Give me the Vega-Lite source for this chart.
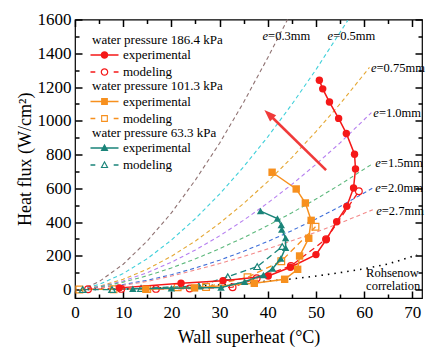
{
  "$schema": "https://vega.github.io/schema/vega-lite/v6.json",
  "width": 347,
  "height": 278.5,
  "autosize": {"type": "none"},
  "padding": {"left": 75, "top": 19.5, "right": 10, "bottom": 56},
  "config": {
    "font": "Liberation Serif",
    "view": {"stroke": "black", "strokeWidth": 1.2},
    "axis": {"grid": false, "domain": false, "labelFlush": false, "labelOverlap": false, "tickColor": "black", "tickWidth": 1.5, "labelColor": "black", "titleColor": "black", "labelFontSize": 17, "titleFontSize": 18, "titleFontWeight": "normal", "labelFont": "Liberation Serif", "titleFont": "Liberation Serif"},
    "legend": {"labelFont": "Liberation Serif", "titleFont": "Liberation Serif", "labelFontSize": 13, "titleFontSize": 13, "titleFontWeight": "normal", "labelColor": "black", "titleColor": "black"}
  },
  "datasets": {
    "curves": [
      {"curve": "0.3", "x": 2.5, "y": 15}, {"curve": "0.3", "x": 5, "y": 47}, {"curve": "0.3", "x": 10, "y": 150}, {"curve": "0.3", "x": 15, "y": 288}, {"curve": "0.3", "x": 20, "y": 454}, {"curve": "0.3", "x": 25, "y": 650}, {"curve": "0.3", "x": 30, "y": 867}, {"curve": "0.3", "x": 35, "y": 1110}, {"curve": "0.3", "x": 40, "y": 1374}, {"curve": "0.3", "x": 44.1, "y": 1600},
      {"curve": "0.5", "x": 2.5, "y": 12}, {"curve": "0.5", "x": 5, "y": 30}, {"curve": "0.5", "x": 10, "y": 95}, {"curve": "0.5", "x": 15, "y": 183}, {"curve": "0.5", "x": 20, "y": 293}, {"curve": "0.5", "x": 25, "y": 421}, {"curve": "0.5", "x": 30, "y": 566}, {"curve": "0.5", "x": 35, "y": 728}, {"curve": "0.5", "x": 40, "y": 905}, {"curve": "0.5", "x": 45, "y": 1097}, {"curve": "0.5", "x": 50, "y": 1303}, {"curve": "0.5", "x": 56.6, "y": 1595},
      {"curve": "0.75", "x": 2.5, "y": 8}, {"curve": "0.75", "x": 5, "y": 19}, {"curve": "0.75", "x": 10, "y": 61}, {"curve": "0.75", "x": 15, "y": 121}, {"curve": "0.75", "x": 20, "y": 197}, {"curve": "0.75", "x": 25, "y": 288}, {"curve": "0.75", "x": 30, "y": 393}, {"curve": "0.75", "x": 35, "y": 510}, {"curve": "0.75", "x": 40, "y": 640}, {"curve": "0.75", "x": 45, "y": 782}, {"curve": "0.75", "x": 50, "y": 936}, {"curve": "0.75", "x": 55, "y": 1100}, {"curve": "0.75", "x": 61.1, "y": 1316},
      {"curve": "1.0", "x": 2.5, "y": 8}, {"curve": "1.0", "x": 5, "y": 17}, {"curve": "1.0", "x": 10, "y": 51}, {"curve": "1.0", "x": 15, "y": 100}, {"curve": "1.0", "x": 20, "y": 162}, {"curve": "1.0", "x": 25, "y": 235}, {"curve": "1.0", "x": 30, "y": 318}, {"curve": "1.0", "x": 35, "y": 411}, {"curve": "1.0", "x": 40, "y": 513}, {"curve": "1.0", "x": 45, "y": 623}, {"curve": "1.0", "x": 50, "y": 742}, {"curve": "1.0", "x": 55, "y": 869}, {"curve": "1.0", "x": 61.5, "y": 1048},
      {"curve": "1.5", "x": 2.5, "y": 7}, {"curve": "1.5", "x": 5, "y": 15}, {"curve": "1.5", "x": 10, "y": 44}, {"curve": "1.5", "x": 15, "y": 82}, {"curve": "1.5", "x": 20, "y": 128}, {"curve": "1.5", "x": 25, "y": 182}, {"curve": "1.5", "x": 30, "y": 242}, {"curve": "1.5", "x": 35, "y": 308}, {"curve": "1.5", "x": 40, "y": 379}, {"curve": "1.5", "x": 45, "y": 455}, {"curve": "1.5", "x": 50, "y": 536}, {"curve": "1.5", "x": 55, "y": 622}, {"curve": "1.5", "x": 61.5, "y": 741},
      {"curve": "2.0", "x": 2.5, "y": 6}, {"curve": "2.0", "x": 5, "y": 11}, {"curve": "2.0", "x": 10, "y": 30}, {"curve": "2.0", "x": 15, "y": 55}, {"curve": "2.0", "x": 20, "y": 88}, {"curve": "2.0", "x": 25, "y": 128}, {"curve": "2.0", "x": 30, "y": 174}, {"curve": "2.0", "x": 35, "y": 227}, {"curve": "2.0", "x": 40, "y": 285}, {"curve": "2.0", "x": 45, "y": 349}, {"curve": "2.0", "x": 50, "y": 418}, {"curve": "2.0", "x": 55, "y": 492}, {"curve": "2.0", "x": 61.8, "y": 602},
      {"curve": "2.7", "x": 2.5, "y": 5}, {"curve": "2.7", "x": 5, "y": 10}, {"curve": "2.7", "x": 10, "y": 25}, {"curve": "2.7", "x": 15, "y": 48}, {"curve": "2.7", "x": 20, "y": 80}, {"curve": "2.7", "x": 25, "y": 116}, {"curve": "2.7", "x": 30, "y": 154}, {"curve": "2.7", "x": 35, "y": 196}, {"curve": "2.7", "x": 40, "y": 241}, {"curve": "2.7", "x": 45, "y": 289}, {"curve": "2.7", "x": 50, "y": 340}, {"curve": "2.7", "x": 55, "y": 394}, {"curve": "2.7", "x": 61.8, "y": 473}
    ],
    "rohs": [
      {"x": 0, "y": 0}, {"x": 10, "y": 3}, {"x": 20, "y": 12}, {"x": 30, "y": 27}, {"x": 40, "y": 50}, {"x": 45, "y": 63}, {"x": 50, "y": 80}, {"x": 55, "y": 100}, {"x": 60, "y": 123}, {"x": 65, "y": 152}, {"x": 71, "y": 205}
    ],
    "series": [
      {"grp": "186.4", "kind": "exp", "i": 1, "x": 9.2, "y": 10}, {"grp": "186.4", "kind": "exp", "i": 2, "x": 22, "y": 37}, {"grp": "186.4", "kind": "exp", "i": 3, "x": 30.7, "y": 52}, {"grp": "186.4", "kind": "exp", "i": 4, "x": 40.1, "y": 80}, {"grp": "186.4", "kind": "exp", "i": 5, "x": 44.7, "y": 132}, {"grp": "186.4", "kind": "exp", "i": 6, "x": 50, "y": 207}, {"grp": "186.4", "kind": "exp", "i": 7, "x": 52.1, "y": 295}, {"grp": "186.4", "kind": "exp", "i": 8, "x": 54.3, "y": 402}, {"grp": "186.4", "kind": "exp", "i": 9, "x": 56.4, "y": 493}, {"grp": "186.4", "kind": "exp", "i": 10, "x": 57.8, "y": 602}, {"grp": "186.4", "kind": "exp", "i": 11, "x": 58.2, "y": 715}, {"grp": "186.4", "kind": "exp", "i": 12, "x": 58, "y": 802}, {"grp": "186.4", "kind": "exp", "i": 13, "x": 56.3, "y": 925}, {"grp": "186.4", "kind": "exp", "i": 14, "x": 54.7, "y": 1014}, {"grp": "186.4", "kind": "exp", "i": 15, "x": 52.8, "y": 1111}, {"grp": "186.4", "kind": "exp", "i": 16, "x": 51.4, "y": 1189}, {"grp": "186.4", "kind": "exp", "i": 17, "x": 50.7, "y": 1240},
      {"grp": "186.4", "kind": "mod", "i": 1, "x": 2.7, "y": 2}, {"grp": "186.4", "kind": "mod", "i": 2, "x": 9.6, "y": 4}, {"grp": "186.4", "kind": "mod", "i": 3, "x": 16.8, "y": 4}, {"grp": "186.4", "kind": "mod", "i": 4, "x": 23.8, "y": 6}, {"grp": "186.4", "kind": "mod", "i": 5, "x": 32.7, "y": 14}, {"grp": "186.4", "kind": "mod", "i": 6, "x": 37.7, "y": 67}, {"grp": "186.4", "kind": "mod", "i": 7, "x": 44.8, "y": 140}, {"grp": "186.4", "kind": "mod", "i": 8, "x": 52.1, "y": 299}, {"grp": "186.4", "kind": "mod", "i": 9, "x": 58.9, "y": 582},
      {"grp": "101.3", "kind": "exp", "i": 1, "x": 14.7, "y": 2}, {"grp": "101.3", "kind": "exp", "i": 2, "x": 24.8, "y": 10}, {"grp": "101.3", "kind": "exp", "i": 3, "x": 37.2, "y": 37}, {"grp": "101.3", "kind": "exp", "i": 4, "x": 43.5, "y": 61}, {"grp": "101.3", "kind": "exp", "i": 5, "x": 46.2, "y": 120}, {"grp": "101.3", "kind": "exp", "i": 6, "x": 46.6, "y": 199}, {"grp": "101.3", "kind": "exp", "i": 7, "x": 48.5, "y": 304}, {"grp": "101.3", "kind": "exp", "i": 8, "x": 49.0, "y": 410}, {"grp": "101.3", "kind": "exp", "i": 9, "x": 47.8, "y": 513}, {"grp": "101.3", "kind": "exp", "i": 10, "x": 45.9, "y": 596}, {"grp": "101.3", "kind": "exp", "i": 11, "x": 40.9, "y": 695},
      {"grp": "101.3", "kind": "mod", "i": 1, "x": 0.9, "y": 0}, {"grp": "101.3", "kind": "mod", "i": 2, "x": 8, "y": 2}, {"grp": "101.3", "kind": "mod", "i": 3, "x": 15, "y": 3}, {"grp": "101.3", "kind": "mod", "i": 4, "x": 21.3, "y": 13}, {"grp": "101.3", "kind": "mod", "i": 5, "x": 27.2, "y": 15}, {"grp": "101.3", "kind": "mod", "i": 6, "x": 35.8, "y": 73}, {"grp": "101.3", "kind": "mod", "i": 7, "x": 42.8, "y": 168}, {"grp": "101.3", "kind": "mod", "i": 8, "x": 49.9, "y": 372},
      {"grp": "63.3", "kind": "exp", "i": 1, "x": 12, "y": 5}, {"grp": "63.3", "kind": "exp", "i": 2, "x": 20, "y": 8}, {"grp": "63.3", "kind": "exp", "i": 3, "x": 30.3, "y": 12}, {"grp": "63.3", "kind": "exp", "i": 4, "x": 35.2, "y": 46}, {"grp": "63.3", "kind": "exp", "i": 5, "x": 39.1, "y": 86}, {"grp": "63.3", "kind": "exp", "i": 6, "x": 41.0, "y": 124}, {"grp": "63.3", "kind": "exp", "i": 7, "x": 42.7, "y": 184}, {"grp": "63.3", "kind": "exp", "i": 8, "x": 43.7, "y": 248}, {"grp": "63.3", "kind": "exp", "i": 9, "x": 43.7, "y": 305}, {"grp": "63.3", "kind": "exp", "i": 10, "x": 42.9, "y": 356}, {"grp": "63.3", "kind": "exp", "i": 11, "x": 42.8, "y": 383}, {"grp": "63.3", "kind": "exp", "i": 12, "x": 42.0, "y": 421}, {"grp": "63.3", "kind": "exp", "i": 13, "x": 38.5, "y": 465},
      {"grp": "63.3", "kind": "mod", "i": 1, "x": 1.6, "y": 0}, {"grp": "63.3", "kind": "mod", "i": 2, "x": 7.7, "y": 0}, {"grp": "63.3", "kind": "mod", "i": 3, "x": 13.7, "y": 7}, {"grp": "63.3", "kind": "mod", "i": 4, "x": 25.7, "y": 21}, {"grp": "63.3", "kind": "mod", "i": 5, "x": 31.7, "y": 76}, {"grp": "63.3", "kind": "mod", "i": 6, "x": 37.8, "y": 136}, {"grp": "63.3", "kind": "mod", "i": 7, "x": 43, "y": 255}
    ],
    "elabels": [
      {"lab": "=0.3mm", "x": 38.9, "y": 1504}, {"lab": "=0.5mm", "x": 52.4, "y": 1504}, {"lab": "=0.75mm", "x": 61.4, "y": 1311}, {"lab": "=1.0mm", "x": 61.9, "y": 1044}, {"lab": "=1.5mm", "x": 62.3, "y": 748}, {"lab": "=2.0mm", "x": 62.3, "y": 600}, {"lab": "=2.7mm", "x": 62.5, "y": 467}
    ],
    "rlabels": [
      {"text": "Rohsenow", "x": 60.4, "y": 100}, {"text": "correlation", "x": 60.4, "y": 23}
    ],
    "arrow": [
      {"x": 52.1, "y": 708}, {"x": 40.1, "y": 1043}
    ],
    "arrowhead": [
      {"x": 39.3, "y": 1064}
    ]
  },
  "resolve": {"scale": {"color": "independent", "shape": "independent"}, "axis": {"x": "independent", "y": "independent"}},
  "layer": [
    {
      "data": {"name": "curves"},
      "mark": {"type": "line", "strokeDash": [4, 3], "strokeWidth": 1.1},
      "encoding": {
        "x": {"field": "x", "type": "quantitative", "scale": {"domain": [0, 72], "nice": false, "zero": false},
              "axis": {"orient": "bottom", "values": [0, 10, 20, 30, 40, 50, 60, 70], "offset": -7, "tickSize": 7, "labelPadding": 6, "title": "Wall superheat (°C)", "titlePadding": 8, "format": "d"}},
        "y": {"field": "y", "type": "quantitative", "scale": {"domain": [-50, 1600], "nice": false, "zero": false},
              "axis": {"orient": "left", "values": [0, 200, 400, 600, 800, 1000, 1200, 1400, 1600], "offset": -7, "tickSize": 7, "labelPadding": 4, "title": "Heat flux (W/cm²)", "titlePadding": 3, "format": "d"}},
        "color": {"field": "curve", "type": "nominal", "legend": null,
                  "scale": {"domain": ["0.3", "0.5", "0.75", "1.0", "1.5", "2.0", "2.7"], "range": ["#8f7272", "#3fd0da", "#e5a835", "#b67ff0", "#5cb87c", "#3f6fd9", "#f38a8a"]}}
      }
    },
    {
      "data": {"name": "rohs"},
      "mark": {"type": "line", "strokeDash": [1.5, 5], "strokeWidth": 1.6, "color": "black"},
      "encoding": {
        "x": {"field": "x", "type": "quantitative", "axis": {"orient": "bottom", "values": [5, 15, 25, 35, 45, 55, 65], "offset": -4, "tickSize": 4, "labels": false, "title": null}},
        "y": {"field": "y", "type": "quantitative", "axis": {"orient": "left", "values": [100, 300, 500, 700, 900, 1100, 1300, 1500], "offset": -4, "tickSize": 4, "labels": false, "title": null}}
      }
    },
    {
      "data": {"name": "series"},
      "transform": [{"filter": "datum.kind === 'mod'"}],
      "mark": {"type": "line", "strokeDash": [6, 4], "strokeWidth": 1.3},
      "encoding": {
        "x": {"field": "x", "type": "quantitative", "axis": {"orient": "top", "values": [0, 10, 20, 30, 40, 50, 60, 70], "offset": -7, "tickSize": 7, "labels": false, "title": null}},
        "y": {"field": "y", "type": "quantitative", "axis": {"orient": "right", "values": [0, 200, 400, 600, 800, 1000, 1200, 1400, 1600], "offset": -7, "tickSize": 7, "labels": false, "title": null}},
        "order": {"field": "i", "type": "quantitative"},
        "color": {"field": "grp", "type": "nominal", "legend": null, "scale": {"domain": ["186.4", "101.3", "63.3"], "range": ["#f51818", "#f7901e", "#1a8479"]}}
      }
    },
    {
      "data": {"name": "series"},
      "transform": [{"filter": "datum.kind === 'mod'"}],
      "mark": {"type": "point", "filled": false, "opacity": 1, "strokeWidth": 1.2, "size": 45},
      "encoding": {
        "x": {"field": "x", "type": "quantitative", "axis": {"orient": "top", "values": [5, 15, 25, 35, 45, 55, 65], "offset": -4, "tickSize": 4, "labels": false, "title": null}},
        "y": {"field": "y", "type": "quantitative", "axis": {"orient": "right", "values": [100, 300, 500, 700, 900, 1100, 1300, 1500], "offset": -4, "tickSize": 4, "labels": false, "title": null}},
        "color": {"field": "grp", "type": "nominal", "legend": null, "scale": {"domain": ["186.4", "101.3", "63.3"], "range": ["#f51818", "#f7901e", "#1a8479"]}},
        "shape": {"field": "grp", "type": "nominal", "legend": null, "scale": {"domain": ["186.4", "101.3", "63.3"], "range": ["circle", "square", "triangle-up"]}}
      }
    },
    {
      "data": {"name": "series"},
      "transform": [{"filter": "datum.kind === 'exp'"}],
      "mark": {"type": "line", "strokeWidth": 1.5},
      "encoding": {
        "x": {"field": "x", "type": "quantitative", "axis": null},
        "y": {"field": "y", "type": "quantitative", "axis": null},
        "order": {"field": "i", "type": "quantitative"},
        "color": {"field": "grp", "type": "nominal", "legend": null, "scale": {"domain": ["186.4", "101.3", "63.3"], "range": ["#f51818", "#f7901e", "#1a8479"]}}
      }
    },
    {
      "data": {"name": "series"},
      "transform": [{"filter": "datum.kind === 'exp'"}],
      "mark": {"type": "point", "filled": true, "opacity": 1, "size": 55, "strokeWidth": 0},
      "encoding": {
        "x": {"field": "x", "type": "quantitative", "axis": null},
        "y": {"field": "y", "type": "quantitative", "axis": null},
        "color": {"field": "grp", "type": "nominal", "legend": null, "scale": {"domain": ["186.4", "101.3", "63.3"], "range": ["#f51818", "#f7901e", "#1a8479"]}},
        "shape": {"field": "grp", "type": "nominal", "legend": null, "scale": {"domain": ["186.4", "101.3", "63.3"], "range": ["circle", "square", "triangle-up"]}}
      }
    },
    {
      "data": {"name": "arrow"},
      "mark": {"type": "line", "color": "#f03a3a", "strokeWidth": 2.6},
      "encoding": {
        "x": {"field": "x", "type": "quantitative", "axis": null},
        "y": {"field": "y", "type": "quantitative", "axis": null}
      }
    },
    {
      "data": {"name": "arrowhead"},
      "mark": {"type": "point", "filled": true, "opacity": 1, "color": "#f03a3a", "strokeWidth": 0, "size": 121, "shape": "M0,0L0.8,2.2L-0.8,2.2Z", "angle": 314},
      "encoding": {
        "x": {"field": "x", "type": "quantitative", "axis": null},
        "y": {"field": "y", "type": "quantitative", "axis": null}
      }
    },
    {
      "data": {"name": "elabels"},
      "mark": {"type": "text", "text": "e", "fontStyle": "italic", "fontSize": 12.5, "align": "left", "baseline": "middle", "color": "black"},
      "encoding": {
        "x": {"field": "x", "type": "quantitative", "axis": null},
        "y": {"field": "y", "type": "quantitative", "axis": null}
      }
    },
    {
      "data": {"name": "elabels"},
      "mark": {"type": "text", "fontSize": 12.5, "align": "left", "baseline": "middle", "dx": 5.6, "color": "black"},
      "encoding": {
        "x": {"field": "x", "type": "quantitative", "axis": null},
        "y": {"field": "y", "type": "quantitative", "axis": null},
        "text": {"field": "lab", "type": "nominal"}
      }
    },
    {
      "data": {"name": "rlabels"},
      "mark": {"type": "text", "fontSize": 12.5, "align": "left", "baseline": "middle", "color": "black"},
      "encoding": {
        "x": {"field": "x", "type": "quantitative", "axis": null},
        "y": {"field": "y", "type": "quantitative", "axis": null},
        "text": {"field": "text", "type": "nominal"}
      }
    },
    {
      "data": {"values": []},
      "mark": {"type": "point", "filled": true, "opacity": 1},
      "encoding": {
        "x": {"field": "x", "type": "quantitative", "axis": null},
        "y": {"field": "y", "type": "quantitative", "axis": null},
        "color": {"field": "kind", "type": "nominal", "scale": {"domain": ["experimental", "modeling"], "range": ["#f51818", "#f51818"]},
                  "legend": {"title": "water pressure 186.4 kPa", "orient": "none", "legendX": 17, "legendY": 14, "padding": 0, "symbolSize": 64, "symbolOffset": 6, "labelOffset": 12, "symbolStrokeWidth": 0, "titlePadding": 2, "rowPadding": 3}},
        "shape": {"field": "kind", "type": "nominal", "scale": {"domain": ["experimental", "modeling"], "range": [
          "M-3.5,-0.19H3.5V0.19H-3.5Z M0.95,0A0.95,0.95 0 1,1 -0.95,0A0.95,0.95 0 1,1 0.95,0Z",
          "M-3.5,-0.16H-2.3V0.16H-3.5Z M2.3,-0.16H3.5V0.16H2.3Z M0.95,0A0.95,0.95 0 1,1 -0.95,0A0.95,0.95 0 1,1 0.95,0Z M0.65,0A0.65,0.65 0 1,0 -0.65,0A0.65,0.65 0 1,0 0.65,0Z"]},
                  "legend": {"title": "water pressure 186.4 kPa", "orient": "none", "legendX": 17, "legendY": 14, "padding": 0, "symbolSize": 64, "symbolOffset": 6, "labelOffset": 12, "symbolStrokeWidth": 0, "titlePadding": 2, "rowPadding": 3}}
      }
    },
    {
      "data": {"values": []},
      "mark": {"type": "point", "filled": true, "opacity": 1},
      "encoding": {
        "x": {"field": "x", "type": "quantitative", "axis": null},
        "y": {"field": "y", "type": "quantitative", "axis": null},
        "color": {"field": "kind", "type": "nominal", "scale": {"domain": ["experimental", "modeling"], "range": ["#f7901e", "#f7901e"]},
                  "legend": {"title": "water pressure 101.3 kPa", "orient": "none", "legendX": 17, "legendY": 60.5, "padding": 0, "symbolSize": 64, "symbolOffset": 6, "labelOffset": 12, "symbolStrokeWidth": 0, "titlePadding": 2, "rowPadding": 3}},
        "shape": {"field": "kind", "type": "nominal", "scale": {"domain": ["experimental", "modeling"], "range": [
          "M-3.5,-0.19H3.5V0.19H-3.5Z M-0.85,-0.85H0.85V0.85H-0.85Z",
          "M-3.5,-0.16H-2.3V0.16H-3.5Z M2.3,-0.16H3.5V0.16H2.3Z M-0.85,-0.85H0.85V0.85H-0.85Z M-0.57,-0.57V0.57H0.57V-0.57Z"]},
                  "legend": {"title": "water pressure 101.3 kPa", "orient": "none", "legendX": 17, "legendY": 60.5, "padding": 0, "symbolSize": 64, "symbolOffset": 6, "labelOffset": 12, "symbolStrokeWidth": 0, "titlePadding": 2, "rowPadding": 3}}
      }
    },
    {
      "data": {"values": []},
      "mark": {"type": "point", "filled": true, "opacity": 1},
      "encoding": {
        "x": {"field": "x", "type": "quantitative", "axis": null},
        "y": {"field": "y", "type": "quantitative", "axis": null},
        "color": {"field": "kind", "type": "nominal", "scale": {"domain": ["experimental", "modeling"], "range": ["#1a8479", "#1a8479"]},
                  "legend": {"title": "water pressure 63.3 kPa", "orient": "none", "legendX": 17, "legendY": 107, "padding": 0, "symbolSize": 64, "symbolOffset": 6, "labelOffset": 12, "symbolStrokeWidth": 0, "titlePadding": 2, "rowPadding": 3}},
        "shape": {"field": "kind", "type": "nominal", "scale": {"domain": ["experimental", "modeling"], "range": [
          "M-3.5,-0.19H3.5V0.19H-3.5Z M0,-1.05L1,0.75H-1Z",
          "M-3.5,-0.16H-2.3V0.16H-3.5Z M2.3,-0.16H3.5V0.16H2.3Z M0,-1.05L1,0.75H-1Z M0,-0.47L-0.52,0.47H0.52Z"]},
                  "legend": {"title": "water pressure 63.3 kPa", "orient": "none", "legendX": 17, "legendY": 107, "padding": 0, "symbolSize": 64, "symbolOffset": 6, "labelOffset": 12, "symbolStrokeWidth": 0, "titlePadding": 2, "rowPadding": 3}}
      }
    }
  ]
}
